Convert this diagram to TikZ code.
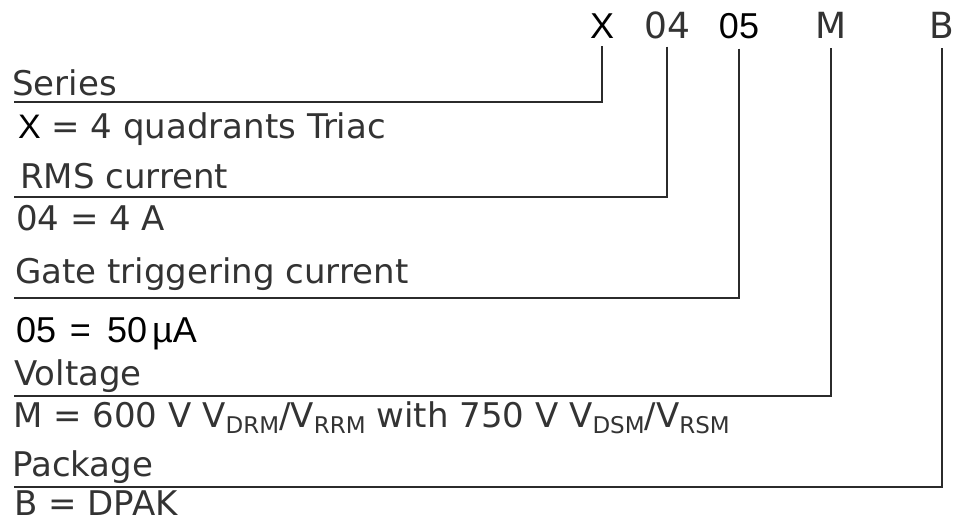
\documentclass[tikz,border=0pt]{standalone}
\usepackage{fontspec}
\setmainfont{DejaVu Sans}
\newfontfamily\arialfont{Liberation Sans}
\definecolor{inkGrey}{HTML}{333333}
\definecolor{leadGrey}{HTML}{2B2B2B}
\newcommand{\lowidx}[1]{\raisebox{-6pt}{\fontsize{23}{23}\selectfont #1}}
\usetikzlibrary{positioning}

\begin{document}
\begin{tikzpicture}[
    x=1pt, y=-1pt,
    code/.style={anchor=base, inner sep=0pt, text=inkGrey, font=\fontsize{36}{40}\selectfont},
    field/.style={anchor=base west, inner sep=0pt, text=inkGrey, font=\fontsize{34}{38}\selectfont},
    lead/.style={draw=leadGrey, line width=2.9pt}
  ]
    \useasboundingbox (0,0) rectangle (955,522);
    % part number letters
    \node[code, text=black, font=\arialfont\fontsize{36}{40}\selectfont] (cx) at (602,38) {X};
    \node[code] (c04) at (667,38) {04};
    \node[code, text=black, font=\arialfont\fontsize{36}{40}\selectfont] (c05) at (739,38) {05};
    \node[code] (cm) at (831,38) {M};
    \node[code] (cb) at (942,38) {B};
    % field names and values
    \node[field] (series) at (12,95) {Series};
    \node[field] (seriesval) at (18,138) {{\arialfont\color{black}X} = 4 quadrants Triac};
    \node[field] (rms) at (20,188) {RMS current};
    \node[field] (rmsval) at (16,230) {04 = 4 A};
    \node[field] (gate) at (15,283) {Gate triggering current};
    \node[field, text=black, font=\arialfont\fontsize{36}{40}\selectfont] (gateval) at (16,342) {05\hspace{0.38em}=\hspace{0.45em}50\hspace{5pt}µA};
    \node[field] (volt) at (14,385) {Voltage};
    \node[field] (voltval) at (13,427) {M = 600 V V\lowidx{DRM}/V\lowidx{RRM} with 750 V V\lowidx{DSM}/V\lowidx{RSM}};
    \node[field] (pkg) at (12,476) {Package};
    \node[field] (pkgval) at (14,515) {B = DPAK};
    % left ends of the leader lines
    \coordinate (lseries) at (14,102);
    \coordinate (lrms) at (14,197);
    \coordinate (lgate) at (14,298);
    \coordinate (lvolt) at (14,396);
    \coordinate (lpkg) at (14,487);
    % leaders
    \draw[lead] ([yshift=-8pt]cx.south) |- (lseries);
    \draw[lead] ([yshift=-8pt]c04.south) |- (lrms);
    \draw[lead] ([yshift=-10pt]c05.south) |- (lgate);
    \draw[lead] ([yshift=-10pt]cm.south) |- (lvolt);
    \draw[lead] ([yshift=-10pt]cb.south) |- (lpkg);
  \end{tikzpicture}
\end{document}
